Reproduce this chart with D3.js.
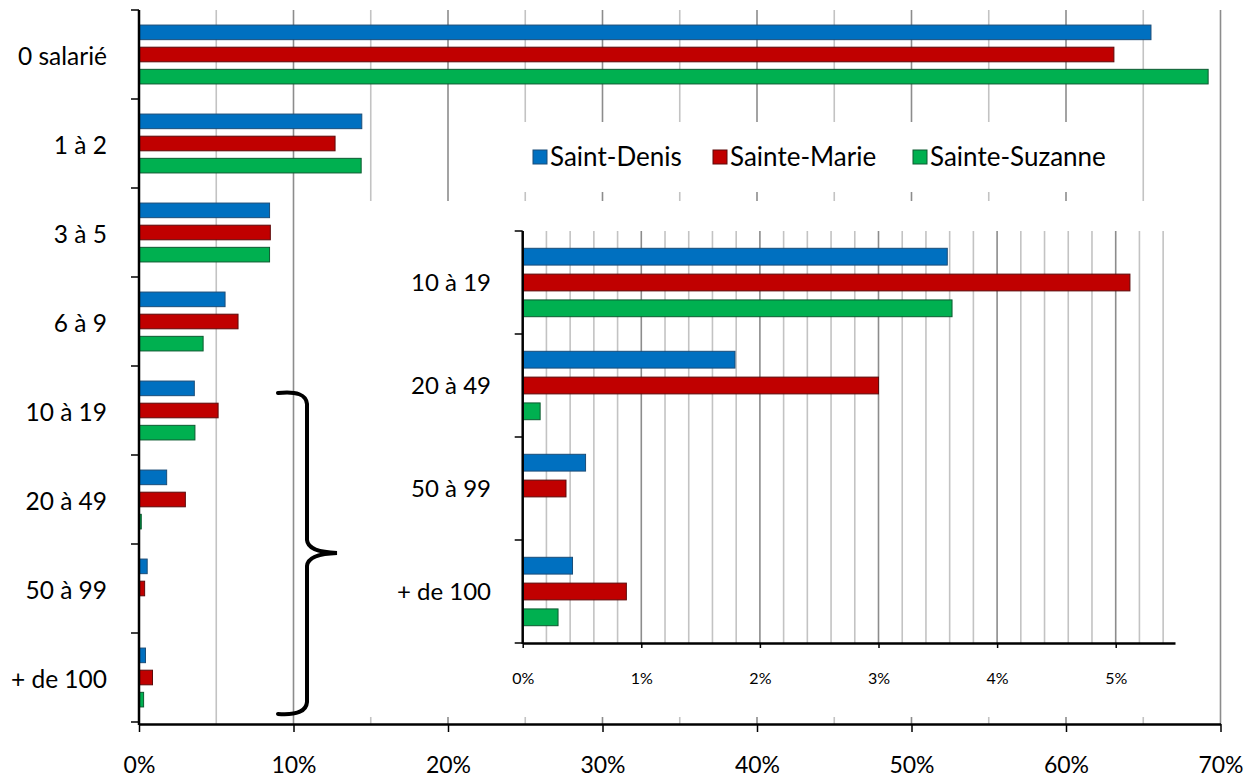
<!DOCTYPE html>
<html>
<head>
<meta charset="utf-8">
<script src="https://cdn.jsdelivr.net/npm/d3@7"></script>
<style>
  html, body { margin: 0; padding: 0; background: #fff; }
  svg text { font-family: Lato, "Open Sans", sans-serif; fill: #000; }
</style>
</head>
<body>
<svg id="chart" width="1255" height="780"></svg>
<script>
const categories = ["0 salarié", "1 à 2", "3 à 5", "6 à 9", "10 à 19", "20 à 49", "50 à 99", "+ de 100"];
const seriesNames = ["Saint-Denis", "Sainte-Marie", "Sainte-Suzanne"];
const saintDenis    = [65.5, 14.42, 8.45, 5.57, 3.58, 1.79, 0.53, 0.42];
const sainteMarie   = [63.1, 12.69, 8.50, 6.41, 5.12, 3.00, 0.365, 0.874];
const sainteSuzanne = [69.2, 14.38, 8.45, 4.15, 3.62, 0.147, 0, 0.298];
const colors  = ["#0070C0", "#C00000", "#00B050"];
const strokes = ["#1b4d78", "#5c0a0a", "#0c5a30"];
const mainTicks  = [0, 10, 20, 30, 40, 50, 60, 70];
const insetTicks = [0, 1, 2, 3, 4, 5];
const insetCategories = categories.slice(4);

const seriesValues = [saintDenis, sainteMarie, sainteSuzanne];
const rows = categories.map((c, i) => ({
  cat: c,
  vals: seriesNames.map((s, j) => ({ series: s, j, value: seriesValues[j][i] }))
}));

const svg = d3.select("#chart");

// ---------- main chart ----------
const x = d3.scaleLinear().domain([0, 70]).range([139, 1220.5]);
const y = d3.scaleBand().domain(categories).range([10, 722]);
const ySub = d3.scaleBand().domain(seriesNames).range([0, y.bandwidth()])
  .paddingInner(0.34).paddingOuter(0.68);
const axisY = 724;

// gridlines
svg.append("g").selectAll("line")
  .data(d3.range(5, 75, 5))
  .join("line")
  .attr("x1", d => x(d)).attr("x2", d => x(d))
  .attr("y1", 10).attr("y2", axisY)
  .attr("stroke", d => d % 10 === 0 ? "#8c8c8c" : "#c3c3c3")
  .attr("stroke-width", 1.6);

// bars
const gMain = svg.append("g");
gMain.selectAll("g")
  .data(rows)
  .join("g")
  .attr("transform", d => `translate(0,${y(d.cat)})`)
  .selectAll("rect")
  .data(d => d.vals)
  .join("rect")
  .attr("x", x(0))
  .attr("y", d => ySub(d.series))
  .attr("width", d => Math.max(0, x(d.value) - x(0)))
  .attr("height", ySub.bandwidth())
  .attr("fill", d => colors[d.j])
  .attr("stroke", d => d.value > 0 ? strokes[d.j] : "none")
  .attr("stroke-width", 1);

// x axis
const xAxis = svg.append("g")
  .attr("transform", `translate(0,${axisY})`)
  .call(d3.axisBottom(x).tickValues(mainTicks).tickFormat(d => d + "%").tickSize(8).tickSizeOuter(0));
xAxis.select(".domain").attr("stroke", "#000").attr("stroke-width", 2.5);
xAxis.selectAll(".tick line").attr("stroke", "#000").attr("stroke-width", 1.5);
xAxis.selectAll(".tick text")
  .attr("y", 41).attr("dy", "0.35em")
  .style("font-size", "23px");

// y axis
const yEdges = categories.map(c => y(c)).concat([y.range()[1]]);
svg.append("line")
  .attr("x1", x(0)).attr("x2", x(0)).attr("y1", 10).attr("y2", axisY + 1)
  .attr("stroke", "#000").attr("stroke-width", 2.5);
svg.append("g").selectAll("line")
  .data(yEdges)
  .join("line")
  .attr("x1", x(0) - 8).attr("x2", x(0))
  .attr("y1", d => d).attr("y2", d => d)
  .attr("stroke", "#000").attr("stroke-width", 1.5);
svg.append("g").selectAll("text")
  .data(categories)
  .join("text")
  .attr("x", 107)
  .attr("y", d => y(d) + y.bandwidth() / 2 + 2)
  .attr("dy", "0.35em")
  .attr("text-anchor", "end")
  .style("font-size", "24.5px")
  .text(d => d);

// ---------- legend ----------
svg.append("rect").attr("x", 520).attr("y", 122).attr("width", 602).attr("height", 70).attr("fill", "#fff");
const legendX = [533, 713, 913];
const lg = svg.append("g").selectAll("g")
  .data(seriesNames)
  .join("g")
  .attr("transform", (d, i) => `translate(${legendX[i]},150)`);
lg.append("rect").attr("width", 14).attr("height", 14)
  .attr("fill", (d, i) => colors[i]).attr("stroke", (d, i) => strokes[i]).attr("stroke-width", 1);
lg.append("text").attr("x", 17).attr("y", 7).attr("dy", "0.36em")
  .style("font-size", "26px").text(d => d);

// ---------- inset chart ----------
svg.append("rect").attr("x", 340).attr("y", 201).attr("width", 878).attr("height", 516).attr("fill", "#fff");

const xi = d3.scaleLinear().domain([0, 5.5]).range([522.7, 1175]);
const yi = d3.scaleBand().domain(insetCategories).range([231, 643]);
const yiSub = d3.scaleBand().domain(seriesNames).range([0, yi.bandwidth()])
  .paddingInner(0.35).paddingOuter(0.67);
const insetAxisY = 643;

svg.append("g").selectAll("line")
  .data(d3.range(1, 28).map(k => k / 5))
  .join("line")
  .attr("x1", d => xi(d)).attr("x2", d => xi(d))
  .attr("y1", 231).attr("y2", insetAxisY)
  .attr("stroke", d => Math.abs(d - Math.round(d)) < 1e-9 ? "#8c8c8c" : "#c3c3c3")
  .attr("stroke-width", 1.6);

const insetRows = rows.slice(4);
svg.append("g").selectAll("g")
  .data(insetRows)
  .join("g")
  .attr("transform", d => `translate(0,${yi(d.cat)})`)
  .selectAll("rect")
  .data(d => d.vals)
  .join("rect")
  .attr("x", xi(0))
  .attr("y", d => yiSub(d.series))
  .attr("width", d => Math.max(0, xi(d.value) - xi(0)))
  .attr("height", yiSub.bandwidth())
  .attr("fill", d => colors[d.j])
  .attr("stroke", d => d.value > 0 ? strokes[d.j] : "none")
  .attr("stroke-width", 1);

const xiAxis = svg.append("g")
  .attr("transform", `translate(0,${insetAxisY})`)
  .call(d3.axisBottom(xi).tickValues(insetTicks).tickFormat(d => d + "%").tickSize(5).tickSizeOuter(0));
xiAxis.select(".domain").attr("stroke", "#000").attr("stroke-width", 2.5);
xiAxis.selectAll(".tick line").attr("stroke", "#000").attr("stroke-width", 1.5);
xiAxis.selectAll(".tick text")
  .attr("y", 35).attr("dy", "0.35em")
  .style("font-size", "16px");

const yiEdges = insetCategories.map(c => yi(c)).concat([yi.range()[1]]);
svg.append("line")
  .attr("x1", xi(0)).attr("x2", xi(0)).attr("y1", 231).attr("y2", insetAxisY + 1)
  .attr("stroke", "#000").attr("stroke-width", 2.5);
svg.append("g").selectAll("line")
  .data(yiEdges)
  .join("line")
  .attr("x1", xi(0) - 8).attr("x2", xi(0))
  .attr("y1", d => d).attr("y2", d => d)
  .attr("stroke", "#000").attr("stroke-width", 1.5);
svg.append("g").selectAll("text")
  .data(insetCategories)
  .join("text")
  .attr("x", 491)
  .attr("y", d => yi(d) + yi.bandwidth() / 2)
  .attr("dy", "0.35em")
  .attr("text-anchor", "end")
  .style("font-size", "24px")
  .text(d => d);

// ---------- brace ----------
svg.append("path")
  .attr("d", "M278,393 Q306,390 307,404 L307,540 Q308,552 337,553 Q308,554 307,566 L307,702 Q306,716 278,714")
  .attr("fill", "none")
  .attr("stroke", "#000")
  .attr("stroke-width", 4)
  .attr("stroke-linecap", "round");
</script>
</body>
</html>
